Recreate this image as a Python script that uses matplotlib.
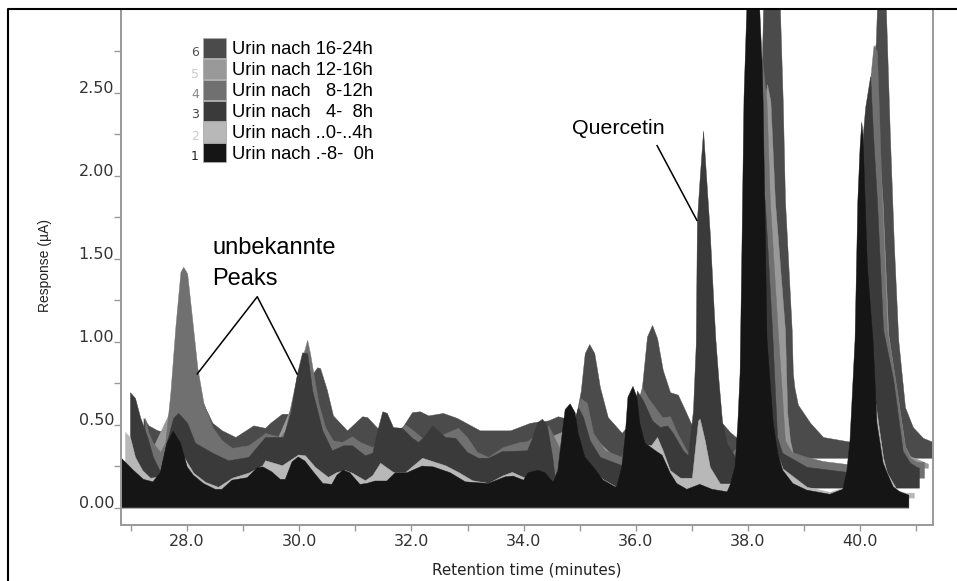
import matplotlib
matplotlib.use("Agg")
import matplotlib.pyplot as plt
from matplotlib.lines import Line2D
from matplotlib.patches import Patch

# chromatogram traces (minutes, uA); each has its own offset floor
x1 = [26.82, 27.04, 27.22, 27.39, 27.52, 27.64, 27.75, 27.88, 28.0, 28.11, 28.29, 28.5, 28.62, 28.8, 29.07, 29.25, 29.35,
      29.51, 29.66, 29.75, 29.87, 29.98, 30.1, 30.25, 30.42, 30.58, 30.67, 30.78, 30.9, 31.08, 31.2, 31.35, 31.56, 31.71,
      31.92, 32.19, 32.39, 32.69, 32.96, 33.37, 33.67, 33.81, 34.0, 34.08, 34.26, 34.38, 34.52, 34.61, 34.68, 34.74, 34.83,
      34.92, 34.97, 35.09, 35.24, 35.42, 35.63, 35.66, 35.75, 35.81, 35.86, 35.95, 36.02, 36.07, 36.16, 36.34, 36.47, 36.61,
      36.73, 36.91, 37.14, 37.36, 37.63, 37.68, 37.77, 37.82, 37.86, 37.89, 37.93, 37.98, 38.09, 38.21, 38.25, 38.27, 38.34,
      38.45, 38.53, 38.62, 38.8, 39.05, 39.46, 39.69, 39.76, 39.82, 39.85, 39.91, 39.96, 40.0, 40.03, 40.05, 40.09, 40.13,
      40.23, 40.3, 40.41, 40.48, 40.59, 40.71, 40.87]
y1 = [0.30, 0.225, 0.17, 0.155, 0.21, 0.39, 0.46, 0.39, 0.245, 0.195, 0.145, 0.11, 0.11, 0.165, 0.18, 0.24, 0.245,
      0.215, 0.17, 0.17, 0.275, 0.305, 0.28, 0.215, 0.145, 0.14, 0.195, 0.225, 0.21, 0.14, 0.145, 0.16, 0.16, 0.21,
      0.21, 0.25, 0.245, 0.21, 0.155, 0.145, 0.185, 0.19, 0.165, 0.21, 0.225, 0.21, 0.155, 0.225, 0.425, 0.59, 0.625,
      0.57, 0.45, 0.305, 0.245, 0.165, 0.125, 0.125, 0.245, 0.425, 0.665, 0.73, 0.665, 0.51, 0.39, 0.345, 0.315, 0.21,
      0.145, 0.11, 0.14, 0.11, 0.095, 0.135, 0.245, 0.51, 0.81, 1.49, 2.47, 3.0, 3.5, 3.0, 2.7, 2.45, 1.01,
      0.51, 0.33, 0.225, 0.145, 0.105, 0.08, 0.11, 0.21, 0.405, 0.605, 1.01, 1.85, 2.17, 2.32, 2.25, 1.85, 1.45,
      1.01, 0.51, 0.27, 0.21, 0.125, 0.095, 0.075]

x2 = [26.89, 26.98, 27.07, 27.2, 27.34, 27.47, 27.7, 27.95, 28.11, 28.32, 28.55, 28.8, 29.09, 29.34, 29.39, 29.69, 29.98,
      30.1, 30.28, 30.51, 30.67, 30.82, 30.94, 31.17, 31.3, 31.44, 31.67, 31.89, 32.19, 32.6, 32.83, 33.08, 33.37, 33.63,
      33.79, 34.02, 34.2, 34.5, 34.7, 35.0, 35.42, 35.63, 35.66, 36.0, 36.2, 36.27, 36.38, 36.48, 36.61, 36.79, 37.0, 37.11,
      37.14, 37.23, 37.32, 37.5, 37.68, 38.1, 38.5, 38.62, 39.05, 39.46, 39.69, 39.8, 40.2, 40.41, 40.48, 40.66, 40.8, 40.96]
y2 = [0.455, 0.425, 0.305, 0.225, 0.18, 0.185, 0.3, 0.3, 0.21, 0.155, 0.125, 0.18, 0.21, 0.255, 0.285, 0.255, 0.32,
      0.315, 0.245, 0.185, 0.215, 0.225, 0.21, 0.165, 0.195, 0.27, 0.215, 0.215, 0.30, 0.255, 0.215, 0.165, 0.148, 0.195,
      0.215, 0.18, 0.17, 0.15, 0.3, 0.3, 0.17, 0.13, 0.125, 0.4, 0.38, 0.375, 0.425, 0.345, 0.225, 0.18, 0.18, 0.525,
      0.535, 0.405, 0.245, 0.145, 0.145, 0.5, 0.34, 0.235, 0.125, 0.095, 0.12, 0.2, 0.8, 0.3, 0.21, 0.105, 0.09, 0.09]

x3 = [26.98, 27.07, 27.16, 27.29, 27.39, 27.52, 27.61, 27.75, 27.84, 28.0, 28.14, 28.45, 28.73, 29.09, 29.39, 29.71, 29.84,
      29.96, 30.05, 30.14, 30.23, 30.41, 30.58, 30.78, 30.94, 31.17, 31.3, 31.39, 31.48, 31.56, 31.67, 31.83, 32.01, 32.12,
      32.24, 32.37, 32.47, 32.6, 32.78, 32.99, 33.19, 33.37, 33.61, 34.06, 34.15, 34.24, 34.33, 34.42, 34.51, 34.56, 34.7,
      34.97, 35.06, 35.18, 35.36, 35.75, 35.9, 36.02, 36.13, 36.29, 36.43, 36.56, 36.66, 36.84, 36.93, 37.02, 37.07, 37.09,
      37.14, 37.2, 37.32, 37.39, 37.42, 37.47, 37.54, 37.63, 37.77, 37.85, 38.0, 38.2, 38.3, 38.43, 38.52, 38.61, 39.05,
      39.76, 39.9, 40.03, 40.05, 40.09, 40.18, 40.23, 40.3, 40.41, 40.59, 40.76, 40.89, 41.01, 41.05]
y3 = [0.695, 0.66, 0.545, 0.425, 0.305, 0.215, 0.365, 0.54, 0.57, 0.51, 0.39, 0.33, 0.285, 0.305, 0.425, 0.425, 0.57,
      0.81, 0.935, 0.93, 0.705, 0.465, 0.345, 0.375, 0.375, 0.315, 0.33, 0.465, 0.58, 0.57, 0.485, 0.48, 0.42, 0.395,
      0.435, 0.495, 0.465, 0.425, 0.42, 0.335, 0.30, 0.30, 0.34, 0.345, 0.42, 0.515, 0.535, 0.485, 0.305, 0.165, 0.3,
      0.605, 0.545, 0.405, 0.305, 0.255, 0.4, 0.705, 0.645, 0.525, 0.485, 0.495, 0.45, 0.345, 0.315, 0.585, 0.99, 1.73,
      1.99, 2.27, 1.65, 1.19, 1.01, 0.785, 0.51, 0.39, 0.305, 0.28, 0.6, 2.0, 1.85, 1.07, 0.425, 0.33, 0.245,
      0.215, 0.3, 2.0, 2.25, 2.41, 2.6, 2.25, 1.85, 1.07, 0.77, 0.34, 0.27, 0.245, 0.24]

x4 = [27.25, 27.31, 27.39, 27.52, 27.61, 27.7, 27.79, 27.88, 27.93, 28.0, 28.09, 28.18, 28.29, 28.45, 28.62, 28.8, 29.09,
      29.34, 29.39, 29.66, 29.75, 29.96, 30.05, 30.14, 30.19, 30.25, 30.34, 30.46, 30.6, 30.76, 30.94, 31.08, 31.3, 31.89,
      32.03, 32.19, 32.51, 32.83, 32.99, 33.17, 33.37, 33.63, 33.93, 34.06, 34.44, 34.68, 34.9, 35.01, 35.13, 35.24, 35.45,
      35.75, 36.0, 36.11, 36.22, 36.47, 36.61, 36.73, 36.93, 37.1, 37.5, 37.71, 37.9, 38.15, 38.25, 38.33, 38.39, 38.53,
      38.61, 38.66, 38.78, 39.05, 39.34, 39.82, 39.95, 40.1, 40.2, 40.24, 40.3, 40.39, 40.48, 40.66, 40.76, 40.8, 40.89,
      41.01, 41.14]
y4 = [0.54, 0.45, 0.39, 0.335, 0.395, 0.69, 1.09, 1.42, 1.45, 1.41, 1.13, 0.845, 0.63, 0.485, 0.405, 0.36, 0.375,
      0.435, 0.45, 0.425, 0.465, 0.8, 0.9, 1.01, 0.93, 0.81, 0.63, 0.485, 0.405, 0.395, 0.43, 0.395, 0.365, 0.50,
      0.465, 0.42, 0.435, 0.48, 0.425, 0.335, 0.305, 0.365, 0.395, 0.40, 0.495, 0.33, 0.5, 0.66, 0.63, 0.45, 0.345,
      0.305, 0.6, 0.725, 0.66, 0.545, 0.55, 0.455, 0.33, 0.5, 0.5, 0.33, 0.4, 2.5, 2.71, 2.45, 1.85, 1.07,
      0.665, 0.405, 0.335, 0.305, 0.28, 0.26, 0.35, 2.0, 2.65, 2.785, 2.75, 1.85, 1.07, 0.70, 0.44, 0.365, 0.30,
      0.275, 0.275]

# trace 5 sits behind trace 4 for most of the run
x5 = [27.3, 28.0, 28.5, 29.5, 30.1, 30.6, 32.0, 33.4, 35.0, 35.7, 36.1, 37.0, 37.7, 37.95, 38.2, 38.34, 38.4, 38.48,
      38.66, 38.7, 38.75, 38.8, 39.05, 39.76, 39.95, 40.1, 40.25, 40.4, 40.5, 40.8, 40.89, 41.21]
y5 = [0.30, 0.8, 0.33, 0.33, 0.8, 0.35, 0.35, 0.28, 0.5, 0.28, 0.5, 0.3, 0.28, 0.5, 2.2, 2.55, 2.45, 1.85,
      1.07, 0.57, 0.405, 0.33, 0.27, 0.25, 0.3, 1.5, 2.6, 1.85, 1.05, 0.37, 0.31, 0.265]

x6 = [27.22, 27.31, 27.47, 27.64, 27.9, 28.45, 28.62, 28.86, 29.18, 29.39, 29.48, 29.69, 29.84, 30.0, 30.32, 30.37, 30.49,
      30.6, 30.85, 31.12, 31.21, 31.39, 31.83, 32.01, 32.15, 32.3, 32.56, 32.81, 33.22, 33.76, 34.11, 34.2, 34.44, 34.61,
      34.72, 34.9, 34.97, 35.02, 35.09, 35.17, 35.26, 35.36, 35.5, 35.75, 36.0, 36.11, 36.2, 36.29, 36.38, 36.48, 36.61,
      36.75, 36.88, 37.0, 37.2, 37.5, 37.68, 37.8, 37.95, 38.2, 38.25, 38.27, 38.41, 38.57, 38.62, 38.66, 38.78, 38.8,
      38.83, 38.89, 39.11, 39.34, 39.85, 39.95, 40.15, 40.28, 40.3, 40.38, 40.46, 40.53, 40.6, 40.68, 40.8, 40.94, 41.12, 41.3]
y6 = [0.54, 0.495, 0.465, 0.455, 0.9, 0.51, 0.465, 0.425, 0.495, 0.48, 0.51, 0.565, 0.565, 0.7, 0.845, 0.84, 0.71,
      0.555, 0.465, 0.55, 0.545, 0.48, 0.48, 0.575, 0.58, 0.555, 0.57, 0.54, 0.465, 0.465, 0.51, 0.515, 0.525, 0.55,
      0.54, 0.5, 0.615, 0.705, 0.93, 0.985, 0.93, 0.725, 0.545, 0.45, 0.55, 0.725, 1.03, 1.10, 1.02, 0.83, 0.695,
      0.68, 0.585, 0.495, 0.5, 0.525, 0.455, 0.42, 0.5, 2.3, 2.71, 3.0, 3.5, 3.0, 2.45, 1.85, 1.07, 0.81,
      0.72, 0.62, 0.51, 0.425, 0.395, 0.5, 2.5, 2.8, 3.0, 3.12, 3.0, 2.25, 1.6, 1.01, 0.605, 0.485, 0.42, 0.395]

floors = [0.0, 0.06, 0.12, 0.18, 0.24, 0.30]
labels = ["Urin nach .-8-  0h", "Urin nach ..0-..4h", "Urin nach   4-  8h",
          "Urin nach   8-12h", "Urin nach 12-16h", "Urin nach 16-24h"]
numbers = ["1", "2", "3", "4", "5", "6"]
shades = ["#151515", "#b8b8b8", "#3a3a3a", "#707070", "#999999", "#4b4b4b"]
number_shades = ["#222222", "#cccccc", "#444444", "#888888", "#cccccc", "#555555"]
traces = [(x1, y1), (x2, y2), (x3, y3), (x4, y4), (x5, y5), (x6, y6)]

plt.rcParams["font.family"] = ["Liberation Sans", "DejaVu Sans"]

fig = plt.figure(figsize=(9.57, 5.81), dpi=100)
ax = fig.add_axes([121 / 957, 1 - 525 / 581, 812 / 957, 516 / 581])

# back to front: 6 first, 1 last
for i in range(5, -1, -1):
    xs, ys = traces[i]
    ax.fill_between(xs, floors[i], ys, color=shades[i], lw=0.3, zorder=2 + (5 - i) * 0.1)

ax.hlines(0, 26.82, 40.87, color="#b0b0b0", lw=1.4, zorder=1.5)

ax.set_xlim(26.82, 41.30)
ax.set_ylim(-0.105, 3.003)

ax.set_xticks([28, 30, 32, 34, 36, 38, 40])
ax.set_xticklabels(["28.0", "30.0", "32.0", "34.0", "36.0", "38.0", "40.0"])
ax.set_xticks([27, 29, 31, 33, 35, 37, 39, 41], minor=True)
ax.set_yticks([0, 0.5, 1, 1.5, 2, 2.5])
ax.set_yticklabels(["0.00", "0.50", "1.00", "1.50", "2.00", "2.50"])
ax.set_yticks([0.25, 0.75, 1.25, 1.75, 2.25, 2.75], minor=True)

ax.tick_params(axis="x", which="both", length=4, width=1, color="#999999", pad=2.5,
               labelsize=11.5, labelcolor="#333333", labelfontfamily="DejaVu Sans")
ax.tick_params(axis="y", which="both", length=5, width=1, color="#999999", pad=0,
               labelsize=11.5, labelcolor="#333333", labelfontfamily="DejaVu Sans")
for lab in ax.get_yticklabels():
    lab.set_verticalalignment("baseline")

for side in ["left", "bottom", "right"]:
    ax.spines[side].set_color("#999999")
    ax.spines[side].set_linewidth(1.4)
ax.spines["top"].set_visible(False)

ax.set_xlabel("Retention time (minutes)", fontsize=10.9, family="DejaVu Sans", color="#222222")
ax.xaxis.set_label_coords(0.5, -0.072)
ax.set_ylabel("Response (µA)", fontsize=10, color="#222222")
ax.yaxis.set_label_coords(-0.085, 0.502)

# legend, top row first
handles = [Patch(facecolor=shades[i], edgecolor="#aaaaaa", lw=0.6) for i in range(5, -1, -1)]
leg = ax.legend(handles, labels[::-1], loc="upper left", bbox_to_anchor=(82 / 812, 1 - 29 / 516),
                frameon=False, fontsize=13.2, borderpad=0, borderaxespad=0, handlelength=1.25,
                handleheight=1.28, labelspacing=0.05, handletextpad=0.33)
leg.set_zorder(5)

number_rows = [156, 136, 115, 94, 74, 53]
for num, row, col in zip(numbers, number_rows, number_shades):
    fig.text(195 / 957, 1 - row / 581, num, color=col, fontsize=9, family="DejaVu Sans", ha="center", va="center")

# annotations
ax.text(34.87, 2.25, "Quercetin", fontsize=15.4, color="black", va="baseline")
ax.text(28.45, 1.53, "unbekannte", fontsize=17, color="black", va="baseline")
ax.text(28.45, 1.34, "Peaks", fontsize=17, color="black", va="baseline")
ax.plot([28.18, 29.25, 29.96], [0.805, 1.27, 0.805], color="black", lw=1.1, zorder=4)
ax.plot([36.38, 37.09], [2.18, 1.73], color="black", lw=1.1, zorder=4)

# outer frame, only top and left
fig.add_artist(Line2D([8 / 957, 8 / 957, 1], [0, 1 - 9 / 581, 1 - 9 / 581], color="black", lw=1.5))

plt.savefig("out.png", dpi=100)
